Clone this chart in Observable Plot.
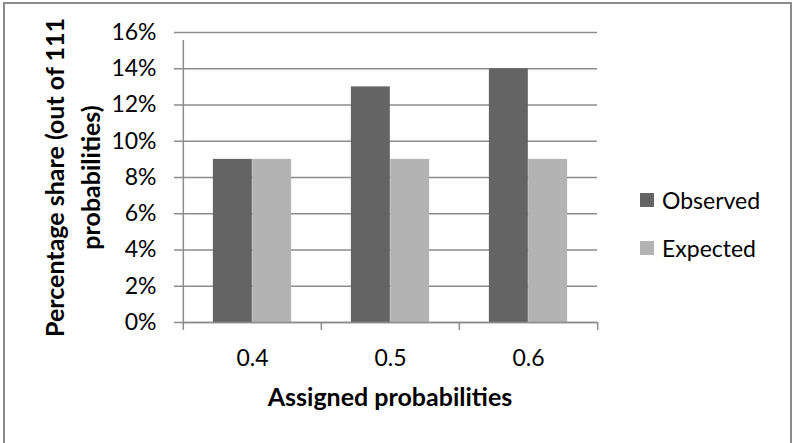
<!DOCTYPE html>
<html>
<head>
<meta charset="utf-8">
<script src="https://cdn.jsdelivr.net/npm/d3@7"></script>
<script src="https://cdn.jsdelivr.net/npm/@observablehq/plot@0.6"></script>
<style>
  html, body { margin: 0; padding: 0; background: #fff; }
  #wrap { position: relative; width: 793px; height: 443px; overflow: hidden; font-family: Lato, "Open Sans", sans-serif; }
  #border { position: absolute; left: 3px; top: 2px; width: 789px; height: 470px; border: 2px solid #8c8c8c; box-sizing: border-box; }
  #chart { position: absolute; left: 0; top: 0; }
  #legend { position: absolute; left: 640px; top: 188px; font-size: 23px; color: #000; }
  .item { display: flex; align-items: center; height: 24px; margin-bottom: 24px; }
  .sw { width: 14px; height: 14px; margin-right: 8px; }
</style>
</head>
<body>
<div id="wrap">
  <div id="border"></div>
  <div id="chart"></div>
  <div id="legend"></div>
</div>
<script>
const categories = ["0.4", "0.5", "0.6"];
const series = ["Observed", "Expected"];
const observed = [0.09, 0.13, 0.14];
const expected = [0.09, 0.09, 0.09];
const yTicks = [0, 0.02, 0.04, 0.06, 0.08, 0.10, 0.12, 0.14, 0.16];
const colors = ["#646464", "#b3b3b3"];
const yLabel = "Percentage share (out of 111\nprobabilities)";
const xLabel = "Assigned probabilities";

const data = [];
categories.forEach((c, i) => {
  data.push({cat: c, series: series[0], value: observed[i]});
  data.push({cat: c, series: series[1], value: expected[i]});
});

const W = 793, H = 443;
const mL = 182, mR = 196, mT = 32, mB = 121;
const step = (W - mL - mR) / categories.length;
const barW = step * 0.284;
const gap = (step - 2 * barW) / 2;
const grid = "#8c8c8c";

const chart = Plot.plot({
  width: W,
  height: H,
  marginLeft: mL,
  marginRight: mR,
  marginTop: mT,
  marginBottom: mB,
  style: {fontFamily: "Lato, 'Open Sans', sans-serif", fontSize: "23px", color: "#000", background: "transparent"},
  x: {domain: categories, padding: 0, label: null, axis: null},
  y: {domain: [0, 0.16], label: null, axis: null},
  color: {domain: series, range: colors},
  marks: [
    Plot.gridY(yTicks, {stroke: grid, strokeOpacity: 1, strokeWidth: 1.5}),
    Plot.barY(data.filter(d => d.series === series[0]), {x: "cat", y: "value", fill: "series", insetLeft: gap, insetRight: step - gap - barW}),
    Plot.barY(data.filter(d => d.series === series[1]), {x: "cat", y: "value", fill: "series", insetLeft: gap + barW, insetRight: gap}),
    Plot.ruleY([0], {stroke: grid, strokeWidth: 1.5}),
    Plot.axisY({ticks: yTicks, tickSize: 8, tickPadding: 18, stroke: grid, strokeWidth: 1.5, tickFormat: d3.format(".0%"), fontSize: 23, fill: "#000", label: null}),
    Plot.ruleX(categories.slice(0, 1), {x: d => d, dx: -step / 2, y1: 0, y2: 0.16, insetBottom: -8, stroke: grid, strokeWidth: 1.5}),
    Plot.axisX({tickSize: 8, tickFormat: () => "", dx: -step / 2, stroke: grid, strokeWidth: 1.5, label: null}),
    Plot.axisX({ticks: categories.slice(-1), tickSize: 8, tickFormat: () => "", dx: step / 2, stroke: grid, strokeWidth: 1.5, label: null}),
    Plot.axisX({tickSize: 0, tickPadding: 27, fontSize: 23, fill: "#000", label: null}),
    Plot.text([yLabel], {frameAnchor: "left", textAnchor: "middle", lineAnchor: "middle", dx: -112, rotate: -90, fontSize: 25, fontWeight: "bold", fill: "#000", lineHeight: 1.45}),
    Plot.text([xLabel], {frameAnchor: "bottom", dy: 83, fontSize: 25, fontWeight: "bold", fill: "#000"})
  ]
});
document.getElementById("chart").appendChild(chart);

const legend = document.getElementById("legend");
series.forEach((s, i) => {
  const item = document.createElement("div");
  item.className = "item";
  const sw = document.createElement("div");
  sw.className = "sw";
  sw.style.background = colors[i];
  const t = document.createElement("span");
  t.textContent = s;
  item.appendChild(sw);
  item.appendChild(t);
  legend.appendChild(item);
});
</script>
</body>
</html>
